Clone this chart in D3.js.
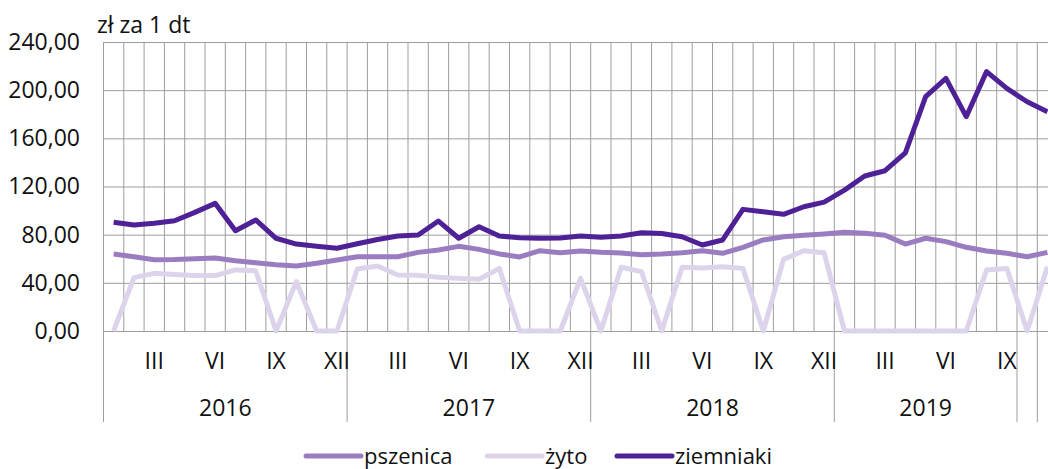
<!DOCTYPE html>
<html>
<head>
<meta charset="utf-8">
<script src="https://cdn.jsdelivr.net/npm/d3@7"></script>
<style>
  body { margin: 0; background: #fff; }
  svg { display: block; }
  text { font-family: "Open Sans", sans-serif; fill: #111; }
</style>
</head>
<body>
<div id="chart"></div>
<script>
// categories: months Jan 2016 .. Nov 2019
var years = [2016, 2017, 2018, 2019];
var month_labels = ["I", "II", "III", "IV", "V", "VI", "VII", "VIII", "IX", "X", "XI", "XII"];
var shown_months = ["III", "VI", "IX", "XII"];
var months_2019_in_group = 9; // after IX 2019 each month is its own group

// prices, zł za 1 dt
var pszenica = [64, 61.7, 59.2, 59.4, 60, 60.6, 58.4, 56.7, 55, 54, 56.2, 59,
  61.7, 61.7, 61.7, 65.3, 67.3, 70.3, 67.8, 64, 61.5, 66.7, 65, 66.4,
  65.3, 64.8, 63.4, 64, 65, 66.7, 64.5, 69.5, 75.6, 78.3, 79.5, 80.6,
  82, 81.1, 79.5, 72.2, 77, 74.2, 69.5, 66.4, 64.5, 61.7, 65.3];
var zyto = [0, 44.3, 47.9, 47, 46, 46, 50.7, 50, 0, 41, 0, 0,
  51.5, 54, 46.5, 46.2, 44.6, 43.7, 43, 52, 0, 0, 0, 43.7,
  0, 52.9, 49.3, 0, 52.9, 52.3, 53.4, 52, 0, 59.5, 66.7, 65,
  0, 0, 0, 0, 0, 0, 0, 50.7, 52, 0, 53.4];
var ziemniaki = [90.3, 88, 89.4, 91.6, 98.5, 106, 83.3, 92.2, 77, 72.2, 70.3, 68.7,
  72.5, 76, 78.9, 79.7, 91.3, 77, 86.6, 78.9, 77.5, 77, 77.2, 78.9,
  77.8, 78.9, 81.6, 81, 78.3, 71.4, 75.6, 101, 99, 96.9, 103.2, 107,
  117, 128.7, 133.1, 148, 194.6, 209.8, 178, 215.4, 201.5, 190.4, 182.1];
var y_ticks = [0, 40, 80, 120, 160, 200, 240];

var series = [
  {name: "pszenica", values: pszenica, color: "#9a7dc1"},
  {name: "żyto", values: zyto, color: "#ddd4eb"},
  {name: "ziemniaki", values: ziemniaki, color: "#4f2197"}
];

var width = 1048, height = 469;
var plot_left = 103.5, plot_top = 42, plot_bottom = 331;
var month_w = 20.3;
var axis_bottom = 422;

var categories = ziemniaki.map(function(d, i) {
  return {key: i, year: years[Math.floor(i / 12)], month: month_labels[i % 12]};
});

var svg = d3.select('#chart').append('svg')
  .attr('width', width)
  .attr('height', height);

var x = d3.scaleBand()
  .domain(categories.map(function(d) { return d.key; }))
  .range([plot_left, plot_left + categories.length * month_w]);

var y = d3.scaleLinear()
  .domain([0, 240])
  .range([plot_bottom, plot_top]);

// horizontal gridlines + y labels
var y_axis = d3.axisLeft(y)
  .tickValues(y_ticks)
  .tickSize(-(width - plot_left))
  .tickPadding(23.5)
  .tickFormat(function(d) { return d.toFixed(2).replace('.', ','); });

var gy = svg.append('g')
  .attr('transform', `translate(${plot_left},0)`)
  .call(y_axis);
gy.select('.domain').remove();
gy.selectAll('line').attr('stroke', '#9d9d9d');
gy.selectAll('text').style('font-size', '23px').attr('fill', '#111');

// vertical gridlines at month boundaries
svg.append('g').selectAll('line')
  .data(categories)
  .enter().append('line')
  .attr('x1', function(d) { return x(d.key); })
  .attr('x2', function(d) { return x(d.key); })
  .attr('y1', plot_top)
  .attr('y2', plot_bottom)
  .attr('stroke', '#9d9d9d');

// group separators under the axis
var separators = [0, 12, 24, 36, 36 + months_2019_in_group, 46];
svg.append('g').selectAll('line')
  .data(separators)
  .enter().append('line')
  .attr('x1', function(d) { return x(d); })
  .attr('x2', function(d) { return x(d); })
  .attr('y1', plot_bottom)
  .attr('y2', axis_bottom)
  .attr('stroke', '#9d9d9d');

// month labels
var x_axis = d3.axisBottom(x)
  .tickSize(0)
  .tickPadding(21.7)
  .tickFormat(function(i) {
    var m = categories[i].month;
    return shown_months.indexOf(m) >= 0 ? m : '';
  });

var gx = svg.append('g')
  .attr('transform', `translate(0,${plot_bottom})`)
  .call(x_axis);
gx.select('.domain').attr('stroke', '#9d9d9d');
gx.selectAll('text').style('font-size', '23px').attr('fill', '#111');

// year labels
years.forEach(function(yr, j) {
  var first = j * 12;
  var last = j < 3 ? first + 11 : first + months_2019_in_group - 1;
  var cx = (x(first) + x(last) + x.bandwidth()) / 2;
  svg.append('text')
    .attr('x', cx)
    .attr('y', 415.5)
    .attr('text-anchor', 'middle')
    .style('font-size', '23px')
    .text(yr);
});

// unit label
svg.append('text')
  .attr('x', 97)
  .attr('y', 33)
  .style('font-size', '23px')
  .text('zł za 1 dt');

// lines
var line = d3.line()
  .x(function(d, i) { return x(i) + x.bandwidth() / 2; })
  .y(function(d) { return y(d); });

series.forEach(function(s) {
  svg.append('path')
    .datum(s.values)
    .attr('fill', 'none')
    .attr('stroke', s.color)
    .attr('stroke-width', 5)
    .attr('stroke-linejoin', 'round')
    .attr('d', line);
});

// legend
var legend_pos = [306, 487, 617];
series.forEach(function(s, i) {
  var g = svg.append('g')
    .attr('transform', `translate(${legend_pos[i]},456)`);
  g.append('line')
    .attr('x1', 0).attr('x2', 55)
    .attr('y1', 0).attr('y2', 0)
    .attr('stroke', s.color)
    .attr('stroke-width', 5)
    .attr('stroke-linecap', 'round');
  g.append('text')
    .attr('x', 58)
    .attr('y', 7.5)
    .style('font-size', '22px')
    .text(s.name);
});
</script>
</body>
</html>
